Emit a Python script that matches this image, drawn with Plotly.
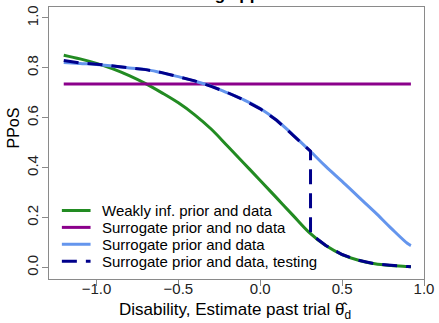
import plotly.graph_objects as go

# ---- data ----
x_grid = [-1.2, -1.1, -1.0, -0.9, -0.8, -0.7, -0.6, -0.5, -0.4, -0.3, -0.2, -0.1,
          0.0, 0.1, 0.2, 0.3, 0.4, 0.5, 0.6, 0.7, 0.8, 0.9, 0.92]
weak_inf_data = [0.851, 0.836, 0.818, 0.796, 0.769, 0.737, 0.700, 0.660, 0.612, 0.555, 0.487, 0.418,
                 0.349, 0.279, 0.209, 0.140, 0.088, 0.052, 0.029, 0.015, 0.008, 0.004, 0.003]
surr_no_data_x = [-1.2, 0.92]
surr_no_data = [0.735, 0.735]
surr_data = [0.822, 0.818, 0.814, 0.808, 0.80, 0.794, 0.78, 0.765, 0.747, 0.727, 0.70, 0.672,
             0.637, 0.59, 0.532, 0.47, 0.405, 0.345, 0.283, 0.222, 0.157, 0.096, 0.088]
testing_x = [-1.2, -1.1, -1.0, -0.9, -0.8, -0.7, -0.6, -0.5, -0.4, -0.3, -0.2, -0.1,
             0.0, 0.1, 0.2, 0.3, 0.307, 0.307, 0.4, 0.5, 0.6, 0.7, 0.8, 0.9, 0.92]
testing_y = [0.830, 0.820, 0.815, 0.808, 0.801, 0.793, 0.781, 0.764, 0.748, 0.726, 0.701, 0.671,
             0.636, 0.59, 0.531, 0.472, 0.466, 0.135, 0.088, 0.052, 0.029, 0.015, 0.008, 0.004, 0.003]

x_ticks = [-1.0, -0.5, 0.0, 0.5, 1.0]
y_ticks = [0.0, 0.2, 0.4, 0.6, 0.8, 1.0]

legend_labels = ["Weakly inf. prior and data", "Surrogate prior and no data",
                 "Surrogate prior and data", "Surrogate prior and data, testing"]
colors = ["#228B22", "#8B008B", "#6495ED", "#00008B"]
dashes = ["solid", "solid", "solid", "15px,9px"]

FONT = "Liberation Sans, Arial, sans-serif"

fig = go.Figure()
fig.add_trace(go.Scatter(x=x_grid, y=weak_inf_data, mode="lines", line_shape="spline",
                         line=dict(color=colors[0], width=3), name=legend_labels[0]))
fig.add_trace(go.Scatter(x=surr_no_data_x, y=surr_no_data, mode="lines",
                         line=dict(color=colors[1], width=3), name=legend_labels[1]))
fig.add_trace(go.Scatter(x=x_grid, y=surr_data, mode="lines", line_shape="spline",
                         line=dict(color=colors[2], width=3), name=legend_labels[2]))
fig.add_trace(go.Scatter(x=testing_x, y=testing_y, mode="lines",
                         line=dict(color=colors[3], width=3, dash=dashes[3]), name=legend_labels[3]))

# plot box in pixels: left 49, right 428, top 5, bottom 279
L, R, T, B = 49, 428, 5, 279
W, H = R - L, B - T


def px_x(p):
    return (p - L) / W


def px_y(p):
    return (B - p) / H


# manual legend (R style)
rows = [210, 227, 244, 261]
for i, lab in enumerate(legend_labels):
    fig.add_shape(type="line", xref="paper", yref="paper",
                  x0=px_x(62), x1=px_x(91), y0=px_y(rows[i]), y1=px_y(rows[i]),
                  line=dict(color=colors[i], width=3, dash=dashes[i]))
    fig.add_annotation(xref="paper", yref="paper", x=px_x(101), y=px_y(rows[i]),
                       text=lab, showarrow=False, xanchor="left", yanchor="middle",
                       font=dict(family=FONT, size=15, color="black"))

# axis titles
fig.add_annotation(xref="paper", yref="paper", x=px_x(237), y=px_y(311),
                   text="Disability, Estimate past trial θ\u0302<sub>d</sub>", showarrow=False,
                   xanchor="center", yanchor="middle",
                   font=dict(family=FONT, size=17, color="black"))
fig.add_annotation(xref="paper", yref="paper", x=px_x(13), y=px_y(127),
                   text="PPoS", showarrow=False, textangle=-90,
                   xanchor="center", yanchor="middle",
                   font=dict(family=FONT, size=16, color="black"))
# clipped main title (only descenders visible)
fig.add_annotation(xref="paper", yref="paper", x=px_x(238), y=px_y(4),
                   text="<b>Testing approach</b>", showarrow=False,
                   xanchor="center", yanchor="bottom",
                   font=dict(family=FONT, size=17, color="black"))

axis_common = dict(showgrid=False, zeroline=False, showline=True, mirror=True,
                   linecolor="#8a8a8a", linewidth=1, ticks="outside", ticklen=6,
                   tickcolor="#8a8a8a", tickwidth=1,
                   tickfont=dict(family=FONT, size=15, color="#222222"))

fig.update_layout(
    width=439, height=323,
    margin=dict(l=L, r=439 - R, t=T, b=323 - B),
    paper_bgcolor="white", plot_bgcolor="white",
    showlegend=False,
    xaxis=dict(range=[-1.29, 1.0], tickvals=x_ticks, tickformat=".1f",
               ticklabelstandoff=-10, **axis_common),
    yaxis=dict(range=[-0.046, 1.044], tickvals=y_ticks, tickformat=".1f", tickangle=-90,
               ticklabelstandoff=-2, **axis_common),
)

fig.write_html("out.html")
